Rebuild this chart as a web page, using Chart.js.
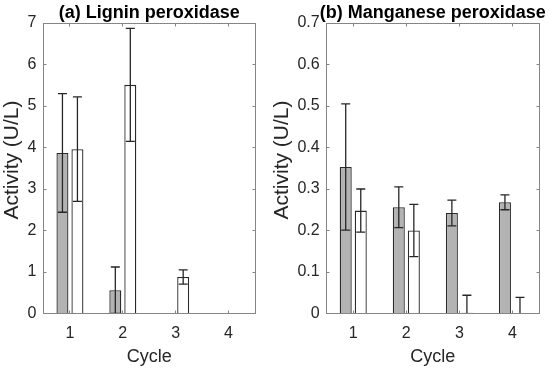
<!DOCTYPE html>
<html>
<head>
<meta charset="utf-8">
<script src="https://cdn.jsdelivr.net/npm/chart.js@4.4.0/dist/chart.umd.min.js"></script>
<style>
    html, body { margin: 0; padding: 0; background: #fff; }
    body { width: 550px; height: 371px; position: relative; overflow: hidden; }
    .panel { position: absolute; top: 0; height: 371px; }
    #panelA { left: 0; width: 275px; }
    #panelB { left: 270px; width: 280px; }
</style>
</head>
<body>
<div class="panel" id="panelA"><canvas id="chartA" width="275" height="371"></canvas></div>
<div class="panel" id="panelB"><canvas id="chartB" width="280" height="371"></canvas></div>
<script>
const cycles = ['1', '2', '3', '4'];

// (a) Lignin peroxidase, U/L (grey and white series, +/- error)
const lipGrey = [3.87, 0.56, 0, 0];
const lipGreyErr = [1.43, 0.56, 0, 0];
const lipWhite = [3.96, 5.51, 0.88, 0];
const lipWhiteErr = [1.26, 1.36, 0.17, 0];
const lipTicks = ['0', '1', '2', '3', '4', '5', '6', '7'];

// (b) Manganese peroxidase, U/L
const mnpGrey = [0.353, 0.256, 0.242, 0.268];
const mnpGreyErr = [0.152, 0.049, 0.031, 0.018];
const mnpWhite = [0.248, 0.200, 0.002, 0];
const mnpWhiteErr = [0.052, 0.063, 0.042, 0.039];
const mnpTicks = ['0', '0.1', '0.2', '0.3', '0.4', '0.5', '0.6', '0.7'];

const FONT = '"Liberation Sans", Arial, sans-serif';
const TEXT = '#262626';
const AXIS = '#858585';

// error bars drawn on top of the bars, through the chart's own scales
const errorBars = {
    id: 'errorBars',
    afterDatasetsDraw(chart) {
        const ctx = chart.ctx;
        const yScale = chart.scales.y;
        const area = chart.chartArea;
        ctx.save();
        ctx.beginPath();
        ctx.rect(area.left, area.top - 1, area.right - area.left, area.bottom - area.top + 1);
        ctx.clip();
        ctx.strokeStyle = '#262626';
        ctx.lineWidth = 1.3;
        chart.data.datasets.forEach((ds, d) => {
            const meta = chart.getDatasetMeta(d);
            ds.data.forEach((v, i) => {
                const e = ds.errors[i];
                if (!e) return;
                const x = meta.data[i].x;
                const yHi = yScale.getPixelForValue(v + e);
                const yLo = yScale.getPixelForValue(v - e);
                const cap = 4.5;
                ctx.beginPath();
                ctx.moveTo(x, yHi);
                ctx.lineTo(x, yLo);
                ctx.moveTo(x - cap, yHi);
                ctx.lineTo(x + cap, yHi);
                ctx.moveTo(x - cap, yLo);
                ctx.lineTo(x + cap, yLo);
                ctx.stroke();
            });
        });
        ctx.restore();
    }
};

// matlab-like box with inward ticks on all sides, panel title and y label
const boxAndTitle = {
    id: 'boxAndTitle',
    afterDraw(chart, args, opts) {
        const ctx = chart.ctx;
        const a = chart.chartArea;
        const l = Math.floor(a.left) + 0.5, r = Math.floor(a.right) + 0.5;
        const t = Math.floor(a.top) + 0.5, b = Math.floor(a.bottom) + 0.5;
        ctx.save();
        ctx.strokeStyle = AXIS;
        ctx.lineWidth = 1;
        ctx.strokeRect(l, t, r - l, b - t);
        const tl = 3;
        ctx.beginPath();
        chart.scales.y.ticks.forEach((tk, i) => {
            const y = Math.floor(chart.scales.y.getPixelForTick(i)) + 0.5;
            ctx.moveTo(l, y); ctx.lineTo(l + tl, y);
            ctx.moveTo(r, y); ctx.lineTo(r - tl, y);
        });
        chart.scales.x.ticks.forEach((tk, i) => {
            const x = Math.floor(chart.scales.x.getPixelForTick(i)) + 0.5;
            ctx.moveTo(x, b); ctx.lineTo(x, b - tl);
            ctx.moveTo(x, t); ctx.lineTo(x, t + tl);
        });
        ctx.stroke();

        ctx.fillStyle = '#000';
        ctx.font = 'bold 18px ' + FONT;
        ctx.textAlign = 'center';
        ctx.textBaseline = 'middle';
        ctx.fillText(opts.text, (a.left + a.right) / 2, 13.5);

        ctx.fillStyle = TEXT;
        ctx.font = '21px ' + FONT;
        ctx.translate(12.5, 160);
        ctx.rotate(-Math.PI / 2);
        ctx.fillText(opts.ylabel, 0, 0);
        ctx.restore();
    }
};

function makeChart(id, title, grey, greyErr, white, whiteErr, maxY, step, tickLabels, axisWidth, padRight) {
    const ctx = document.getElementById(id).getContext('2d');
    return new Chart(ctx, {
        type: 'bar',
        data: {
            labels: cycles,
            datasets: [{
                data: grey,
                errors: greyErr,
                backgroundColor: '#b3b3b3',
                borderColor: '#2a2a2a',
                borderWidth: 1.3,
                categoryPercentage: 0.567,
                barPercentage: 0.8
            }, {
                data: white,
                errors: whiteErr,
                backgroundColor: '#ffffff',
                borderColor: '#2a2a2a',
                borderWidth: 1.3,
                categoryPercentage: 0.567,
                barPercentage: 0.8
            }]
        },
        options: {
            responsive: false,
            animation: false,
            layout: { padding: { top: 23, right: padRight, bottom: 0, left: 0 } },
            plugins: {
                legend: { display: false },
                tooltip: { enabled: false },
                boxAndTitle: { text: title, ylabel: 'Activity (U/L)' }
            },
            scales: {
                x: {
                    grid: { display: false, drawTicks: false },
                    border: { display: false },
                    ticks: { color: TEXT, font: { family: FONT, size: 16 }, padding: 10 },
                    title: {
                        display: true,
                        text: 'Cycle',
                        color: TEXT,
                        font: { family: FONT, size: 18 },
                        padding: { top: 0, bottom: 3 }
                    },
                    afterFit(scale) { scale.height = 57.5; }
                },
                y: {
                    min: 0,
                    max: maxY,
                    grid: { display: false, drawTicks: false },
                    border: { display: false },
                    ticks: {
                        stepSize: step,
                        color: TEXT,
                        font: { family: FONT, size: 16 },
                        padding: 7,
                        callback: (value, index) => tickLabels[index]
                    },
                    afterFit(scale) { scale.width = axisWidth; }
                }
            }
        },
        plugins: [errorBars, boxAndTitle]
    });
}

makeChart('chartA', '(a) Lignin peroxidase', lipGrey, lipGreyErr, lipWhite, lipWhiteErr, 7, 1, lipTicks, 43.5, 20);
makeChart('chartB', '(b) Manganese peroxidase', mnpGrey, mnpGreyErr, mnpWhite, mnpWhiteErr, 0.7, 0.1, mnpTicks, 56.7, 11);
</script>
</body>
</html>
